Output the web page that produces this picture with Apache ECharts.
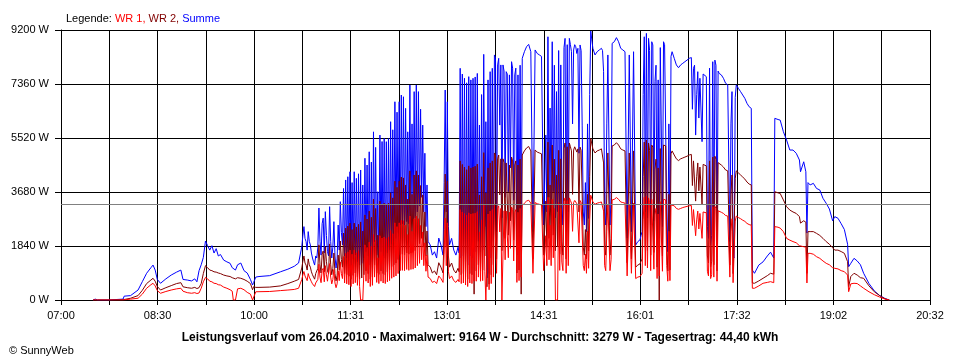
<!DOCTYPE html>
<html>
<head>
<meta charset="utf-8">
<script src="https://cdn.jsdelivr.net/npm/echarts@6/dist/echarts.min.js"></script>
<style>
html,body{margin:0;padding:0;background:#fff;}
#chart{width:960px;height:360px;}
</style>
</head>
<body>
<div id="chart"></div>
<script>
// minutes after 07:00
const timeMin = [
30,32,34,44,45,58,59,65,72,76,80,84,86,88,90,93,98,103,108,112,114,118,122,125,127,129,131,133,135,137,139,141,143,145,147,149,152,155,158,160,161,163,165,168,171,174,177,179,180,182,185,195,205,212,218,222,
225,226,227,228,229,230,231,232,233,234,235,236,237,238,239,240,241,242,243,244,245,246,247,248,249,250,251,252,253,254,255,256,257,258,259,260,261,262,263,264,
265,266,267,268,269,270,271,272,273,274,275,276,277,278,279,280,281,282,283,284,285,286,287,288,289,290,291,292,293,294,295,296,297,298,299,300,301,302,303,304,
305,306,307,308,309,310,311,312,313,314,315,316,317,318,319,320,321,322,323,324,325,326,327,328,329,330,331,332,333,334,335,336,337,338,339,340,341,342,343,
345,347,349,351,353,355,357,358,359,360,361,362,363,365,367,369,371,
372,373,374,375,376,377,378,379,380,381,382,383,384,385,386,387,388,389,390,391,392,393,394,395,396,397,398,399,400,401,
402,403,404,405,406,407,408,409,410,411,412,413,414,415,416,417,418,419,420,421,422,423,424,425,426,427,428,429,430,431,
433,435,437,439,441,443,445,447,449,451,453,
454,455,456,457,458,459,460,461,462,463,464,465,466,467,468,469,470,471,472,473,474,475,476,477,478,479,480,481,482,483,484,485,486,487,488,489,490,491,492,493,494,495,
497,499,501,503,505,
506,507,508,509,510,511,512,513,514,515,
517,519,521,523,525,527,529,531,533,535,537,539,541,
542,543,544,545,546,547,548,549,550,551,552,553,554,555,556,557,558,559,560,561,562,563,564,565,566,567,568,569,570,571,
573,575,577,579,581,583,585,587,589,
590,591,592,593,594,595,596,597,598,599,600,601,
603,604,605,606,607,608,609,610,611,612,613,614,615,
617,619,621,623,
624,625,626,627,628,629,630,631,
633,635,637,639,641,643,645,
646,648,652,656,660,663,666,667,670,672,675,678,681,684,687,690,691,694,696,697,698,700,703,706,709,712,715,718,721,723,726,729,732,735,736,738,741,744,747,750,755,760,765,770,774];

const summe = [
0,30,0,0,30,30,130,150,340,625,910,1100,1190,1020,700,570,720,850,950,1020,700,680,650,720,620,1000,1200,1450,2010,1850,1700,1850,1600,1750,1500,1550,1360,1300,1250,1100,1150,1020,1200,1260,1000,920,700,510,600,780,800,830,960,1050,1150,1260,
1815,2200,2500,2100,1990,1700,2330,2000,1875,1600,1430,1300,1190,1500,1430,1800,3135,2000,1530,2600,2790,1600,3010,2200,1645,1500,3180,2000,1430,1800,2670,1500,1090,1400,2555,1700,3350,2300,1875,3800,
1500,4090,1430,4200,1350,4370,1190,4000,1400,4370,1530,4145,1300,4300,1190,4430,1250,3920,1430,4830,1645,4600,1500,5050,1190,4700,1300,5730,1990,5200,1530,3690,1450,5620,1645,5400,1500,5505,1430,5395,
1600,5500,1700,6075,1900,5800,2000,6755,2100,6400,2300,6755,2560,6985,2600,6925,2560,6530,2670,5730,2600,7325,2670,6000,2700,7100,2800,7325,3000,7100,3200,6500,3500,5960,3000,5000,2500,3920,2000,
1875,1530,1645,1430,2110,1875,1530,4000,7155,3000,6755,2500,1875,2100,1700,1530,1800,
1600,7895,1430,7700,1500,7555,1300,7400,1190,7610,1500,7500,1430,7555,1645,7600,1645,7720,2000,5960,1645,7000,1700,8370,2500,6075,750,7500,900,7780,
1430,7895,2000,8350,8235,2330,8010,8235,5960,8010,2800,8010,7800,3500,7780,7700,3690,7670,4500,8120,7900,3400,7670,7900,1530,7670,1700,8000,2000,8235,
8460,8630,8710,8460,2330,8520,8400,8350,8300,2555,5620,
3000,8970,3500,6540,3010,8800,3690,8000,2800,7100,3010,8500,2600,8010,3300,2555,8600,8915,2330,8700,3000,8915,8700,8460,6000,8520,8700,8630,8400,8575,5000,8690,8500,5960,3000,2555,4000,2330,6000,2780,7000,9164,
8575,8350,8460,8520,8575,
8500,7780,3000,2555,6000,8350,8300,2555,3500,8745,
8800,8940,8800,8575,8520,8460,2110,8350,2330,8460,1875,1990,2050,
2200,2330,7000,8970,3000,9085,2800,8915,8500,2555,8800,8690,2700,7440,8000,1860,7500,2100,8600,8630,2500,8800,8700,8745,3000,1645,6000,1700,8300,8460,
8235,8010,7915,8010,8065,8120,8175,8235,8260,
6500,7895,8000,5620,7000,7780,6200,7555,7600,5395,7700,7670,
7610,2500,2100,7900,1875,2200,8120,2000,8175,8000,1645,7800,7720,
7670,7555,7385,7330,
7300,1990,6000,7100,1500,1430,6900,7330,
7210,7100,6985,6870,6700,6585,6530,
1020,910,1190,1300,1500,1630,1430,6190,6150,6130,5735,5450,5110,5110,5000,4770,4370,4710,4370,2280,4000,3920,3975,3800,3750,3465,3295,3100,2700,2840,2785,2600,2400,1900,1135,1250,1420,1330,1200,910,560,310,150,50,0];

const wr2 = [
0,0,0,0,0,10,30,60,150,330,560,680,740,640,460,340,420,490,560,590,450,420,400,430,390,420,560,900,1170,1100,1020,1000,960,950,920,900,850,820,800,760,760,720,760,740,700,640,560,350,455,430,430,440,480,560,640,700,
1090,1320,1500,1260,1190,1020,1400,1200,1120,960,860,780,710,900,860,1080,1880,1200,920,1560,1670,960,1810,1320,990,900,1910,1200,860,1080,1600,900,650,840,1530,1020,2010,1380,1120,2280,
900,2450,860,2520,810,2620,710,2400,840,2620,920,2490,780,2580,710,2660,750,2350,860,2900,990,2760,900,3030,710,2820,780,3440,1190,3120,920,2210,870,3370,990,3240,900,3300,860,3240,
960,3300,1020,3650,1140,3480,1200,4050,1260,3840,1380,4050,1540,4190,1560,4160,1540,3920,1600,3440,1560,4400,1600,3600,1620,4260,1680,4400,1800,4260,1920,3900,2100,3580,1800,3000,1500,2350,1200,
1120,920,990,860,1270,1120,920,2400,4290,1800,4050,1500,1120,1260,1020,920,1080,
960,4740,860,4620,900,4530,780,4440,710,4570,900,4500,860,4530,200,4560,990,4630,1200,3580,990,4200,1020,5020,1500,3650,450,4500,540,4670,
860,4740,1200,5010,4940,1400,4810,4940,3580,4810,1680,4810,4680,2100,4670,4620,2210,4600,2700,4870,4740,2040,4600,4740,920,4600,1020,4800,200,4940,
5080,5180,5230,5080,1400,5110,5040,5010,4980,1530,3370,
1800,5380,2100,3920,1810,5280,2210,4800,1680,4260,1810,5100,1560,4810,1980,1530,5160,5350,1400,5220,1800,5350,5220,5080,3600,5110,5220,5180,5040,5150,3000,5210,5100,3580,1800,1530,2400,1400,3600,1670,4200,5500,
5150,5010,5080,5110,5150,
5100,4670,1800,1530,3600,5010,4980,1530,2100,5250,
5280,5360,5280,5150,5110,5080,1270,5010,1400,5080,1120,1190,1230,
1320,1400,4200,5380,1800,5450,1680,5350,5100,1530,5280,5210,1620,4460,4800,1120,4500,0,5160,5180,1500,5280,5220,5250,1800,990,3600,1020,4980,5080,
4940,4810,4750,4810,4840,4870,4900,4940,4960,
3900,4740,4800,3370,4200,4670,3720,4530,4560,3240,4620,4600,
4570,1500,1260,4740,1120,1320,4870,1200,4900,4800,990,4680,4630,
4600,4530,4430,4400,
4380,1190,3600,4260,900,860,4140,4400,
4330,4260,4190,4120,4020,3950,3920,
580,570,650,740,830,910,880,3690,3650,3630,3410,3180,3065,3000,2950,2840,2620,2700,2650,910,2330,2330,2330,2270,2200,2100,1990,1900,1780,1700,1700,1650,1590,1305,455,800,910,850,760,740,480,280,150,40,0];

const wr1 = [
0,0,0,0,0,0,20,30,60,200,400,520,570,480,320,230,290,340,380,400,300,250,230,250,220,240,400,620,770,720,640,620,570,560,520,510,440,400,350,300,0,0,380,400,350,260,200,0,0,280,283,290,320,340,360,400,
700,860,970,820,770,660,900,780,720,620,550,500,460,580,550,700,1220,780,590,1010,1080,620,1170,860,640,580,1240,780,550,700,1040,580,420,550,1000,660,1300,900,730,1480,
580,1590,550,1640,520,1700,460,1560,550,1700,590,1610,500,1680,460,0,0,0,0,1880,640,1790,580,1970,460,1830,500,2230,780,2030,600,1440,560,2190,640,2110,580,2150,560,2100,
620,2150,660,2370,740,2260,780,2630,820,2500,900,2630,1000,2720,1010,2700,1000,2550,1040,2230,1010,2860,1040,2340,1050,2770,1090,2860,1170,2770,1250,2540,1370,2320,1170,1950,980,1530,780,
730,600,640,560,820,730,600,1560,2790,1170,2630,980,730,820,660,600,700,
620,3080,560,3000,580,2950,510,2890,460,2970,580,2930,560,2950,640,2960,640,3010,780,2320,640,2730,660,3260,980,0,0,2930,350,3030,
560,3080,780,3260,3210,910,3120,3210,2320,3120,0,0,3040,1370,3030,3000,1440,2990,1760,3170,3080,1330,2990,3080,600,2990,660,3120,780,3210,
3300,3370,3400,3300,910,3320,3280,3260,3240,1000,2190,
1170,3500,1370,2550,1170,3430,1440,3120,0,0,0,3320,1010,3120,1290,1000,3350,3480,910,3390,1170,3480,3390,3300,2340,3320,3390,3370,3280,3340,1950,3390,3320,2320,1170,1000,1560,910,2340,1080,2730,3570,
3340,3260,3300,3320,3340,
3320,3030,1170,1000,2340,3260,3240,1000,1370,3410,
3430,3490,3430,3340,3320,3300,820,3260,910,3300,730,780,800,
860,910,2730,3500,1170,3540,1090,3480,3320,1000,3430,3390,1050,2900,3120,730,2930,820,3350,3370,980,3430,3390,3410,1170,640,2340,660,3240,3300,
3210,3120,3090,3120,3150,3170,3190,3210,3220,
2540,3080,3120,2190,2730,3030,2420,2950,2960,2100,3000,2990,
2970,980,820,3080,730,860,3170,780,3190,3120,640,3040,3010,
2990,2950,2880,2860,
2850,780,2340,2770,590,560,2690,2860,
2810,2770,2720,2680,2610,2570,2550,
400,400,480,570,600,625,590,2500,2480,2450,2330,2100,2040,1990,1950,1850,1815,1815,1800,580,1590,1590,1560,1475,1420,1330,1250,1200,1100,1080,1060,1000,965,850,283,550,570,560,480,400,280,180,100,30,0];

const tickLabels = ['07:00','08:30','10:00','11:31','13:01','14:31','16:01','17:32','19:02','20:32'];
const average = 3279;

const span = 812;
const step = span / 18;
const font = 'Liberation Sans';

const mk = arr => timeMin.map((t, i) => [t, arr[i]]);

const chart = echarts.init(document.getElementById('chart'));
chart.setOption({
  animation: false,
  backgroundColor: '#ffffff',
  grid: { left: 61, right: 30, top: 30, bottom: 60, containLabel: false },
  title: [
    {
      left: 61, top: 8,
      text: '{k|Legende: }{a|WR 1, }{b|WR 2, }{c|Summe}',
      textStyle: {
        fontWeight: 'normal',
        rich: {
          k: { color: '#000', fontSize: 11, fontFamily: font, fontWeight: 'normal' },
          a: { color: '#ff0000', fontSize: 11, fontFamily: font, fontWeight: 'normal' },
          b: { color: '#800000', fontSize: 11, fontFamily: font, fontWeight: 'normal' },
          c: { color: '#0000ff', fontSize: 11, fontFamily: font, fontWeight: 'normal' }
        }
      }
    },
    {
      left: 'center', top: 327,
      text: 'Leistungsverlauf vom 26.04.2010 - Maximalwert: 9164 W - Durchschnitt: 3279 W - Tagesertrag: 44,40 kWh',
      textStyle: { color: '#000', fontSize: 12, fontWeight: 'bold', fontFamily: font }
    },
    {
      left: 4, top: 340,
      text: '© SunnyWeb',
      textStyle: { color: '#000', fontSize: 11, fontWeight: 'normal', fontFamily: font }
    }
  ],
  xAxis: {
    type: 'value', min: 0, max: span, interval: step,
    axisLine: { lineStyle: { color: '#000', width: 1 } },
    axisTick: { show: true, length: 5, lineStyle: { color: '#000' } },
    splitLine: { show: true, lineStyle: { color: '#000', width: 1 } },
    axisLabel: {
      color: '#000', fontSize: 11, fontFamily: font, margin: 10,
      showMinLabel: true, showMaxLabel: true,
      formatter: v => { const k = Math.round(v / step); return k % 2 === 0 ? tickLabels[k / 2] : ''; }
    }
  },
  yAxis: {
    type: 'value', min: 0, max: 9200, interval: 1840,
    axisLine: { show: true, lineStyle: { color: '#000', width: 1 } },
    axisTick: { show: true, length: 6, lineStyle: { color: '#000' } },
    splitLine: { show: true, lineStyle: { color: '#000', width: 1 } },
    axisLabel: { color: '#000', fontSize: 11, fontFamily: font, margin: 12, formatter: v => v + ' W' }
  },
  series: [
    {
      name: 'Summe', type: 'line', data: mk(summe), showSymbol: false, symbol: 'none',
      lineStyle: { color: '#0000ff', width: 1 }, itemStyle: { color: '#0000ff' },
      z: 2,
      markLine: {
        silent: true, symbol: 'none', label: { show: false },
        lineStyle: { color: '#808080', type: 'solid', width: 1 },
        data: [{ yAxis: average }]
      }
    },
    {
      name: 'WR 2', type: 'line', data: mk(wr2), showSymbol: false, symbol: 'none',
      lineStyle: { color: '#800000', width: 1 }, itemStyle: { color: '#800000' }, z: 3
    },
    {
      name: 'WR 1', type: 'line', data: mk(wr1), showSymbol: false, symbol: 'none',
      lineStyle: { color: '#ff0000', width: 1 }, itemStyle: { color: '#ff0000' }, z: 4
    }
  ]
});
</script>
</body>
</html>
